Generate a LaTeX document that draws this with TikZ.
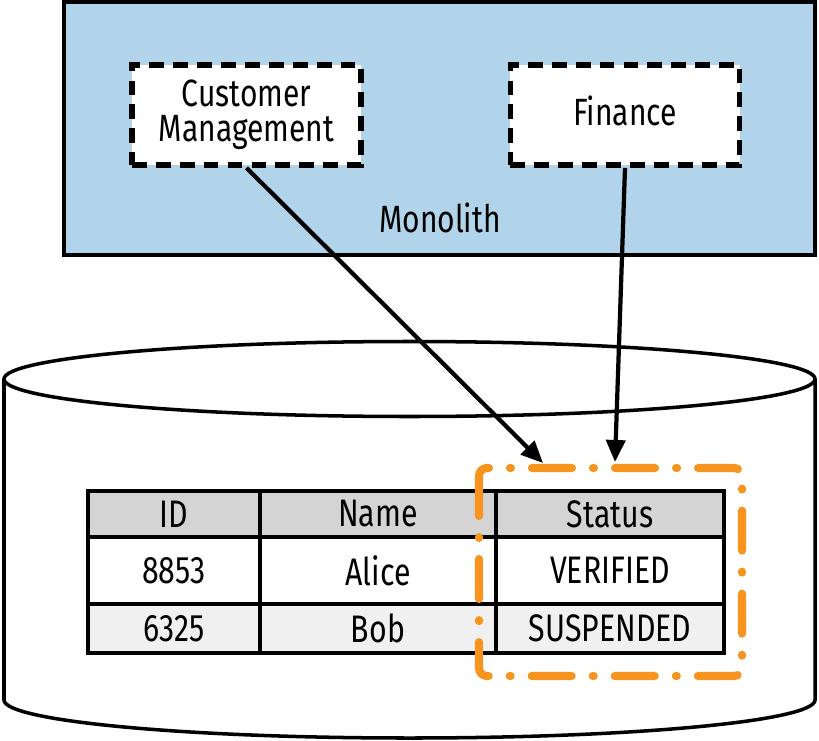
\documentclass[tikz,border=0pt]{standalone}
\usepackage{fontspec}
\setmainfont{Fira Sans}[FakeStretch=0.79]
\usetikzlibrary{arrows.meta,positioning}
\definecolor{bleumono}{RGB}{177,212,234}
\definecolor{grisentete}{RGB}{212,212,212}
\definecolor{grisligne}{RGB}{240,240,240}
\definecolor{orangezone}{RGB}{247,148,30}
\tikzset{
  module/.style={draw, fill=white, line width=1.6pt, dash pattern=on 4.2pt off 2.6pt,
    minimum width=2.29cm, minimum height=1cm, align=center, inner sep=0pt,
    font=\fontsize{10.8}{10}\selectfont},
  cellule/.style={draw, line width=1.1pt, inner sep=0pt, font=\fontsize{10.9}{11}\selectfont},
  fleche/.style={line width=1.2pt, -{Triangle[length=0.22cm,width=0.19cm]}},
  zone/.style={draw=orangezone, line width=2.3pt, line cap=round, rounded corners=0.08cm,
    dash pattern=on 0.4cm off 0.21cm on 0.01cm off 0.21cm},
}

\begin{document}
\begin{tikzpicture}[x=0.01cm, y=-0.01cm]
        % Cadre de l'image : 819 x 740
        \useasboundingbox (0,0) rectangle (819,740);

        % Le monolithe et ses deux modules
        \node[draw, fill=bleumono, line width=1pt, minimum width=7.51cm, minimum height=2.53cm] (mono) at (439.5,128.5) {};
        \node[font=\fontsize{10.8}{12}\selectfont] (monolabel) at (440,218) {Monolith};
        \node[module] (client) at (246.5,115) {Customer\\Management};
        \node[module, text depth=0.08cm] (finance) at (625,115) {Finance};

        % La base de données : un cylindre dessiné à la main
        \draw[fill=white, line width=1pt] (4,379) -- (4,700) arc[start angle=180, end angle=0, x radius=405.5, y radius=38] -- (815,379);
        \draw[fill=white, line width=1pt] (409.5,379) ellipse [x radius=405.5, y radius=37.5];

        % Le tableau : une ligne d'en-tête puis deux lignes de données
        \node[cellule, fill=grisentete, minimum width=1.72cm, minimum height=0.46cm] (idh) at (174,514) {ID};
        \node[cellule, fill=grisentete, minimum width=2.36cm, minimum height=0.46cm] (nomh) at (378,514) {Name};
        \node[cellule, fill=grisentete, minimum width=2.28cm, minimum height=0.46cm] (statuth) at (610,514) {Status};
        \node[cellule, fill=white, minimum width=1.72cm, minimum height=0.67cm] (id1) at (174,570.5) {8853};
        \node[cellule, fill=white, minimum width=2.36cm, minimum height=0.67cm] (nom1) at (378,570.5) {Alice};
        \node[cellule, fill=white, minimum width=2.28cm, minimum height=0.67cm] (statut1) at (610,570.5) {VERIFIED};
        \node[cellule, fill=grisligne, minimum width=1.72cm, minimum height=0.49cm] (id2) at (174,628.5) {6325};
        \node[cellule, fill=grisligne, minimum width=2.36cm, minimum height=0.49cm] (nom2) at (378,628.5) {Bob};
        \node[cellule, fill=grisligne, minimum width=2.28cm, minimum height=0.49cm] (statut2) at (610,628.5) {SUSPENDED};

        % La colonne Status, entourée en orange
        \draw[zone] (479,468) rectangle (742,676);

        % Les deux modules écrivent dans la même colonne
        \coordinate (cibleclient) at (543,463);
        \coordinate (ciblefinance) at (615,462);
        \draw[fleche] (client.south) -- (cibleclient);
        \draw[fleche] (finance.south) -- (ciblefinance);
\end{tikzpicture}
\end{document}
